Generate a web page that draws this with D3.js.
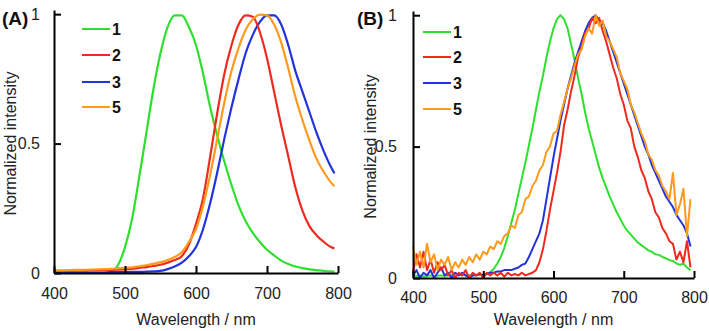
<!DOCTYPE html>
<html>
<head>
<meta charset="utf-8">
<script src="https://cdn.jsdelivr.net/npm/d3@7"></script>
<style>
  body { margin: 0; background: #fff; }
  svg { display: block; font-family: "Liberation Sans", Arial, sans-serif; }
</style>
</head>
<body>
<div id="chart"></div>
<script>
// ---- data ----
// panel A: smooth spectra, 10 nm steps (last point 795)
var wlA = [400,410,420,430,440,450,460,470,480,490,500,510,520,530,540,550,560,570,580,590,
           600,610,620,630,640,650,660,670,680,690,700,710,720,730,740,750,760,770,780,790,795];
var a1 = [0,0,0,0,0,0,0,0,0.005,0.03,0.10,0.21,0.37,0.54,0.71,0.85,0.95,0.995,0.995,0.95,
          0.88,0.77,0.64,0.53,0.43,0.34,0.26,0.20,0.155,0.12,0.09,0.068,0.048,0.035,0.025,0.019,0.014,0.011,0.008,0.006,0.005];
var a2 = [0.008,0.008,0.008,0.009,0.009,0.01,0.01,0.011,0.012,0.013,0.014,0.016,0.02,0.023,0.027,0.032,0.04,0.05,0.065,0.11,
          0.19,0.29,0.45,0.62,0.77,0.88,0.96,0.995,0.99,0.93,0.83,0.70,0.57,0.45,0.33,0.24,0.18,0.145,0.12,0.10,0.095];
var a3 = [0.002,0.002,0.002,0.002,0.002,0.002,0.002,0.002,0.003,0.003,0.003,0.004,0.004,0.005,0.006,0.008,0.015,0.025,0.04,0.065,
          0.10,0.17,0.27,0.39,0.52,0.64,0.75,0.85,0.92,0.97,0.995,0.995,0.96,0.88,0.78,0.70,0.62,0.54,0.47,0.41,0.385];
var a5 = [0.01,0.01,0.011,0.012,0.012,0.013,0.014,0.015,0.016,0.018,0.02,0.022,0.026,0.03,0.035,0.042,0.05,0.062,0.08,0.12,
          0.17,0.26,0.38,0.52,0.66,0.78,0.87,0.94,0.98,0.998,0.995,0.96,0.89,0.79,0.68,0.59,0.51,0.44,0.39,0.35,0.335];

// panel B: noisy spectra, 5 nm steps 400..795
var wlB = d3.range(400, 800, 5);
var b1 = [0.01,0.008,0.01,0.006,0.008,0.01,0.007,0.009,0.01,0.008,0.01,0.012,0.01,0.012,0.01,0.011,0.01,0.01,0.01,0.012,
          0.013,0.016,0.022,0.035,0.055,0.08,0.115,0.16,0.21,0.26,0.32,0.38,0.44,0.505,0.57,0.64,0.71,0.77,0.84,0.90,
          0.95,0.985,1.0,0.985,0.95,0.89,0.83,0.76,0.70,0.63,0.57,0.52,0.47,0.42,0.38,0.345,0.31,0.28,0.25,0.225,
          0.20,0.18,0.165,0.15,0.135,0.125,0.115,0.105,0.1,0.09,0.088,0.08,0.075,0.068,0.065,0.055,0.05,0.055,0.04,0.03];
var b2 = [0.02,0.09,0.04,0.1,0.03,0.07,0.02,0.06,0.03,0.05,0.01,0.03,0.0,0.02,0.01,0.03,0.0,0.02,0.01,0.02,
          0.0,0.02,0.01,0.02,0.01,0.02,0.005,0.02,0.01,0.015,0.01,0.02,0.01,0.015,0.02,0.03,0.06,0.11,0.18,0.26,
          0.33,0.40,0.48,0.58,0.64,0.71,0.77,0.84,0.88,0.93,0.95,0.99,0.97,0.99,0.94,0.90,0.85,0.80,0.76,0.70,
          0.66,0.60,0.57,0.50,0.46,0.41,0.38,0.33,0.30,0.25,0.23,0.19,0.17,0.14,0.13,0.07,0.10,0.06,0.14,0.04];
var b3 = [0.01,0.03,0.0,0.02,0.01,0.03,0.0,0.02,0.04,0.01,0.02,0.0,0.02,0.01,0.02,0.01,0.0,0.01,0.01,0.015,
          0.01,0.015,0.02,0.02,0.025,0.025,0.03,0.03,0.03,0.035,0.04,0.05,0.055,0.08,0.11,0.14,0.17,0.22,0.30,0.38,
          0.46,0.53,0.60,0.66,0.72,0.77,0.82,0.86,0.90,0.94,0.97,0.99,1.0,0.98,0.97,0.94,0.90,0.86,0.82,0.78,
          0.74,0.70,0.66,0.62,0.58,0.54,0.50,0.47,0.43,0.40,0.37,0.34,0.31,0.29,0.27,0.24,0.22,0.20,0.17,0.12];
var b5 = [0.12,0.05,0.1,0.04,0.13,0.06,0.09,0.03,0.07,0.05,0.08,0.03,0.06,0.04,0.07,0.05,0.08,0.06,0.09,0.07,
          0.1,0.09,0.12,0.11,0.14,0.13,0.16,0.17,0.2,0.19,0.24,0.25,0.3,0.31,0.35,0.37,0.41,0.43,0.48,0.5,
          0.55,0.56,0.62,0.67,0.72,0.76,0.81,0.85,0.87,0.92,0.95,0.93,1.0,0.96,0.98,0.92,0.9,0.87,0.84,0.78,
          0.75,0.72,0.66,0.63,0.59,0.55,0.52,0.47,0.45,0.41,0.39,0.35,0.33,0.3,0.4,0.24,0.28,0.34,0.16,0.3];

var seriesNames = ["1", "2", "3", "5"];
var colors = {"1": "#2ee02e", "2": "#ee2a1e", "3": "#2233dd", "5": "#ff9a1a"};
var drawOrder = ["1", "3", "2", "5"];
var xTicks = [400, 500, 600, 700, 800];
var yTicks = [0, 0.5, 1];

var W = 709, H = 331;
var svg = d3.select("#chart").append("svg")
    .attr("width", W)
    .attr("height", H);

function drawPanel(cfg) {
    var x = d3.scaleLinear().domain([400, 800]).range([cfg.left, cfg.right]);
    var y = d3.scaleLinear().domain([0, 1.016]).range([cfg.bottom, cfg.top]);
    var g = svg.append("g");

    var line = d3.line()
        .x(function(d) { return x(d[0]); })
        .y(function(d) { return y(d[1]); })
        .curve(cfg.curve);

    drawOrder.forEach(function(k) {
        var pts = cfg.wl.map(function(w, i) { return [w, cfg.data[k][i]]; });
        g.append("path")
            .datum(pts)
            .attr("d", line)
            .attr("fill", "none")
            .attr("stroke", colors[k])
            .attr("stroke-width", cfg.lw)
            .attr("stroke-linejoin", "round");
    });

    var xAxis = g.append("g")
        .attr("transform", "translate(0," + cfg.bottom + ")")
        .call(d3.axisBottom(x).tickValues(xTicks).tickSizeInner(-7).tickSizeOuter(0).tickPadding(cfg.xpad));
    var yAxis = g.append("g")
        .attr("transform", "translate(" + cfg.left + ",0)")
        .call(d3.axisLeft(y).tickValues(yTicks).tickSizeInner(-7).tickSizeOuter(0).tickPadding(cfg.ypad)
            .tickFormat(d3.format("")));

    [xAxis, yAxis].forEach(function(ax) {
        ax.select(".domain").attr("stroke", "#000").attr("stroke-width", 2);
        ax.selectAll(".tick line").attr("stroke", "#000").attr("stroke-width", 2);
        ax.selectAll(".tick text").attr("font-size", 16).attr("fill", "#222")
            .attr("font-family", "Liberation Sans, Arial, sans-serif");
    });

    g.append("text")
        .attr("x", (cfg.left + cfg.right) / 2)
        .attr("y", 325)
        .attr("text-anchor", "middle")
        .attr("font-size", 16)
        .attr("fill", "#222")
        .text("Wavelength / nm");

    g.append("text")
        .attr("transform", "translate(" + cfg.ylabX + "," + y(0.5) + ") rotate(-90)")
        .attr("text-anchor", "middle")
        .attr("font-size", 16)
        .attr("fill", "#222")
        .text("Normalized intensity");

    g.append("text")
        .attr("x", cfg.tagX)
        .attr("y", 25)
        .attr("font-size", 19)
        .attr("font-weight", "bold")
        .attr("fill", "#111")
        .text(cfg.tag);

    // legend
    seriesNames.forEach(function(k, i) {
        var ly = cfg.legY[i];
        g.append("line")
            .attr("x1", cfg.legX).attr("x2", cfg.legX + 28)
            .attr("y1", ly).attr("y2", ly)
            .attr("stroke", colors[k]).attr("stroke-width", 2);
        g.append("text")
            .attr("x", cfg.legX + 30)
            .attr("y", ly)
            .attr("dy", "0.36em")
            .attr("font-size", 16)
            .attr("font-weight", "bold")
            .attr("fill", "#111")
            .text(k);
    });
}

drawPanel({
    wl: wlA, data: {"1": a1, "2": a2, "3": a3, "5": a5},
    left: 54, right: 338, top: 10, bottom: 273,
    curve: d3.curveMonotoneX, lw: 2.2,
    xpad: 15, ypad: 14, ylabX: 16, tag: "(A)", tagX: 2,
    legX: 82, legY: [29, 55, 82, 107]
});

drawPanel({
    wl: wlB, data: {"1": b1, "2": b2, "3": b3, "5": b5},
    left: 413, right: 694, top: 11, bottom: 278,
    curve: d3.curveLinear, lw: 2,
    xpad: 14, ypad: 16, ylabX: 376, tag: "(B)", tagX: 357,
    legX: 423, legY: [32, 57, 83, 109]
});
</script>
</body>
</html>
